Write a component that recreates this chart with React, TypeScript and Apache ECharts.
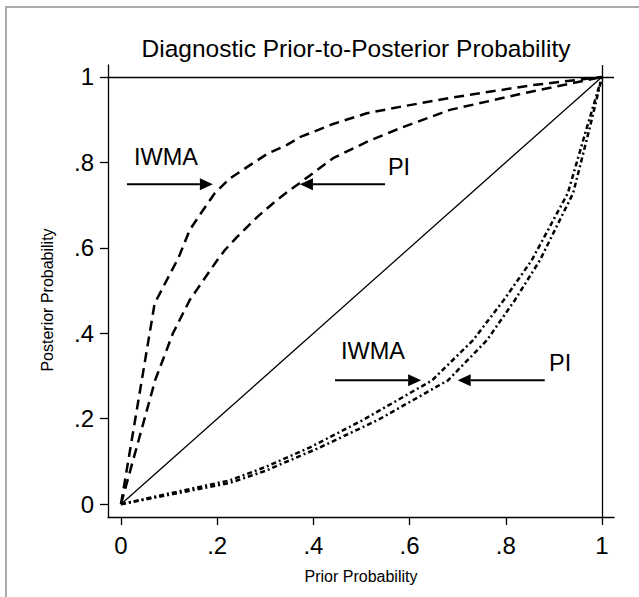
import React, { useEffect, useRef } from "react";
import * as echarts from "echarts";

// ---- data ----
const tickValues = [0, 0.2, 0.4, 0.6, 0.8, 1];
const tickLabels = ["0", ".2", ".4", ".6", ".8", "1"];

const diagPrior = [0, 1];
const diagPost = [0, 1];

const iwmaPosPrior = [0, 0.07, 0.12, 0.143, 0.168, 0.195, 0.227, 0.262, 0.304, 0.345, 0.372, 0.441, 0.511, 0.58, 0.684, 0.85, 1];
const iwmaPosPost = [0, 0.47, 0.578, 0.642, 0.684, 0.728, 0.763, 0.789, 0.82, 0.841, 0.859, 0.89, 0.915, 0.93, 0.951, 0.98, 1];

const piPosPrior = [0, 0.071, 0.108, 0.143, 0.2, 0.216, 0.241, 0.283, 0.324, 0.351, 0.372, 0.441, 0.511, 0.58, 0.684, 0.85, 1];
const piPosPost = [0, 0.29, 0.4, 0.478, 0.571, 0.595, 0.625, 0.672, 0.712, 0.735, 0.752, 0.81, 0.848, 0.88, 0.923, 0.965, 1];

const iwmaNegPrior = [0, 0.1, 0.227, 0.3, 0.393, 0.503, 0.647, 0.732, 0.796, 0.854, 0.929, 0.969, 1];
const iwmaNegPost = [0, 0.025, 0.056, 0.087, 0.133, 0.197, 0.29, 0.384, 0.478, 0.571, 0.728, 0.883, 1];

const piNegPrior = [0, 0.1, 0.227, 0.3, 0.414, 0.534, 0.68, 0.761, 0.819, 0.871, 0.94, 0.975, 1];
const piNegPost = [0, 0.022, 0.05, 0.078, 0.133, 0.197, 0.29, 0.384, 0.478, 0.571, 0.728, 0.883, 1];

const titleText = "Diagnostic Prior-to-Posterior Probability";
const xName = "Prior Probability";
const yName = "Posterior Probability";

// annotation texts and arrows, in data units
const noteTexts = [
  { text: "IWMA", x: 0.0936, y: 0.8126 },
  { text: "PI", x: 0.578, y: 0.789 },
  { text: "IWMA", x: 0.524, y: 0.358 },
  { text: "PI", x: 0.913, y: 0.33 },
];
const noteArrows = [
  { from: [0.0125, 0.749], to: [0.191, 0.749] },
  { from: [0.549, 0.749], to: [0.372, 0.749] },
  { from: [0.445, 0.29], to: [0.624, 0.29] },
  { from: [0.881, 0.29], to: [0.7, 0.29] },
];

const FONT = "'Liberation Sans', Arial, Helvetica, sans-serif";

const zip = (a: number[], b: number[]) => a.map((v, i) => [v, b[i]]);

const labelFor = (v: number) => {
  const i = tickValues.findIndex((t) => Math.abs(t - v) < 1e-6);
  return i >= 0 ? tickLabels[i] : "";
};

export default function App() {
  const ref = useRef<HTMLDivElement>(null);

  useEffect(() => {
    if (!ref.current) return;
    const chart = echarts.init(ref.current, null, { renderer: "svg" });

    const axisCommon = {
      type: "value" as const,
      axisLine: { show: true, onZero: false, lineStyle: { color: "#000", width: 1.3 } },
      axisTick: { show: true, length: 8, customValues: tickValues, lineStyle: { color: "#000", width: 1.3 } },
      axisLabel: {
        customValues: tickValues,
        formatter: (v: number) => labelFor(v),
        fontSize: 24,
        color: "#000",
        fontFamily: FONT,
      },
      splitLine: { show: false },
    };

    const curve = (name: string, data: number[][], type: any, width: number) => ({
      name,
      type: "line",
      data,
      showSymbol: false,
      symbol: "none",
      silent: true,
      lineStyle: { color: "#000", width, type, cap: "butt" },
    });

    chart.setOption({
      animation: false,
      backgroundColor: "#fff",
      grid: { left: 108, top: 65, right: 25, bottom: 80, containLabel: false, outerBoundsMode: "none" },
      xAxis: {
        ...axisCommon,
        min: -0.027,
        max: 1.025,
        position: "bottom",
        axisLabel: { ...axisCommon.axisLabel, margin: 16 },
      },
      yAxis: {
        ...axisCommon,
        min: -0.03,
        max: 1.028,
        position: "left",
        axisLabel: { ...axisCommon.axisLabel, margin: 14 },
      },
      series: [
        {
          ...curve("diag", zip(diagPrior, diagPost), "solid", 1.3),
          markLine: {
            silent: true,
            symbol: "none",
            label: { show: false },
            lineStyle: { color: "#000", width: 1.3, type: "solid" },
            emphasis: { disabled: true },
            data: [{ yAxis: 1 }, { xAxis: 1 }],
          },
        },
        curve("IWMA+", zip(iwmaPosPrior, iwmaPosPost), [10, 6], 2.5),
        curve("PI+", zip(piPosPrior, piPosPost), [10, 6], 2.5),
        curve("IWMA-", zip(iwmaNegPrior, iwmaNegPost), [5, 3, 2, 3], 2.5),
        curve("PI-", zip(piNegPrior, piNegPost), [5, 3, 2, 3], 2.5),
      ],
    });

    const px = (p: number[]) => chart.convertToPixel({ gridIndex: 0 }, p) as number[];
    const graphics: any[] = [
      {
        type: "rect",
        silent: true,
        z: -10,
        shape: { x: 6, y: 7, width: 800, height: 800 },
        style: { fill: "none", stroke: "#aaaaaa", lineWidth: 2 },
      },
      {
        type: "text",
        x: 356,
        y: 48,
        style: { text: titleText, font: `24.5px ${FONT}`, fill: "#000", align: "center", verticalAlign: "middle" },
      },
      {
        type: "text",
        x: 361,
        y: 576,
        style: { text: xName, font: `16px ${FONT}`, fill: "#000", align: "center", verticalAlign: "middle" },
      },
      {
        type: "text",
        x: 47,
        y: 300,
        rotation: Math.PI / 2,
        style: { text: yName, font: `16px ${FONT}`, fill: "#000", align: "center", verticalAlign: "middle" },
      },
    ];
    noteTexts.forEach((n) => {
      const [x, y] = px([n.x, n.y]);
      graphics.push({
        type: "text",
        x,
        y,
        style: { text: n.text, font: `23.5px ${FONT}`, fill: "#000", align: "center", verticalAlign: "middle" },
      });
    });
    noteArrows.forEach((a) => {
      const [x1, y1] = px(a.from);
      const [x2, y2] = px(a.to);
      const dir = x2 > x1 ? 1 : -1;
      const headLen = 13;
      const half = 6;
      graphics.push({
        type: "line",
        shape: { x1, y1, x2: x2 - dir * headLen, y2 },
        style: { stroke: "#000", lineWidth: 2 },
      });
      graphics.push({
        type: "polygon",
        shape: { points: [[x2, y2], [x2 - dir * headLen, y2 - half], [x2 - dir * headLen, y2 + half]] },
        style: { fill: "#000" },
      });
    });
    chart.setOption({ graphic: graphics });

    return () => chart.dispose();
  }, []);

  return (
    <div
      ref={ref}
      style={{ position: "absolute", left: 0, top: 0, width: 639, height: 597, background: "#fff" }}
    />
  );
}
